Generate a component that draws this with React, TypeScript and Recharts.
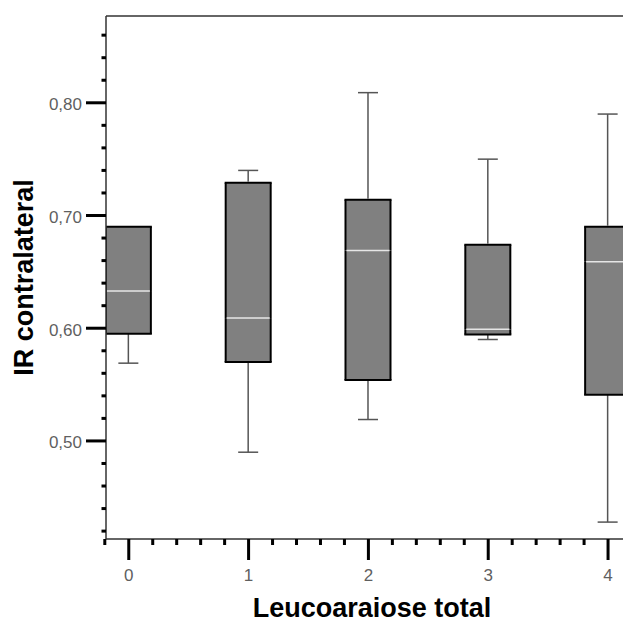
import React from 'react';
import { ComposedChart, Bar, XAxis, YAxis, ReferenceLine } from 'recharts';

// ---- data ----
const categories = [0, 1, 2, 3, 4];
const whiskerLow = [0.569, 0.49, 0.519, 0.59, 0.428];
const quartile1 = [0.595, 0.57, 0.554, 0.5945, 0.541];
const medians = [0.633, 0.609, 0.669, 0.599, 0.659];
const quartile3 = [0.69, 0.729, 0.714, 0.674, 0.69];
const whiskerHigh = [0.69, 0.74, 0.809, 0.75, 0.79];

const xTicks = [
  -0.2, 0, 0.2, 0.4, 0.6, 0.8, 1, 1.2, 1.4, 1.6, 1.8, 2, 2.2, 2.4, 2.6, 2.8, 3,
  3.2, 3.4, 3.6, 3.8, 4, 4.2,
];
const xMajorTicks = [0, 1, 2, 3, 4];
const xTickLabels = ['0', '1', '2', '3', '4'];

const yTicks = [
  0.42, 0.44, 0.46, 0.48, 0.5, 0.52, 0.54, 0.56, 0.58, 0.6, 0.62, 0.64, 0.66,
  0.68, 0.7, 0.72, 0.74, 0.76, 0.78, 0.8, 0.82, 0.84, 0.86,
];
const yMajorTicks = [0.5, 0.6, 0.7, 0.8];
const yTickLabels = ['0,50', '0,60', '0,70', '0,80'];

const xTitle = 'Leucoaraiose total';
const yTitle = 'IR contralateral';

const xDomain: [number, number] = [-0.19, 4.25];
const yDomain: [number, number] = [0.413, 0.877];

const data = categories.map((c, i) => ({
  x: c,
  base: whiskerLow[i],
  lowWhisker: quartile1[i] - whiskerLow[i],
  lowBox: medians[i] - quartile1[i],
  highBox: quartile3[i] - medians[i],
  highWhisker: whiskerHigh[i] - quartile3[i],
}));

// ---- styles ----
const FONT = '"Liberation Sans", Arial, sans-serif';
const BOX_HALF = 22.5;
const CAP_HALF = 10;
const BOX_FILL = '#808080';
const BOX_STROKE = '#000';
const WHISKER = '#555';
const MEDIAN = '#e6e6e6';
const AXIS = '#333';
const TICK_TEXT = '#5f5f5f';

const findIdx = (arr: number[], v: number) =>
  arr.findIndex((m) => Math.abs(m - v) < 1e-6);

const XTick = (props: any) => {
  const { x, y, payload } = props;
  const idx = findIdx(xMajorTicks, payload.value);
  if (idx >= 0) {
    return (
      <g>
        <rect x={x - 1.5} y={y} width={3} height={21} fill="#000" />
        <text
          x={x}
          y={y + 42}
          textAnchor="middle"
          fontSize={17}
          fontFamily={FONT}
          fill={TICK_TEXT}
        >
          {xTickLabels[idx]}
        </text>
      </g>
    );
  }
  return <rect x={x - 1.5} y={y} width={3} height={6} fill="#000" />;
};

const YTick = (props: any) => {
  const { x, y, payload } = props;
  const idx = findIdx(yMajorTicks, payload.value);
  if (idx >= 0) {
    return (
      <g>
        <rect x={x - 20} y={y - 1.5} width={20} height={3} fill="#000" />
        <text
          x={x - 24}
          y={y + 7.5}
          textAnchor="end"
          fontSize={17}
          fontFamily={FONT}
          fill={TICK_TEXT}
        >
          {yTickLabels[idx]}
        </text>
      </g>
    );
  }
  return <rect x={x - 4.5} y={y - 1.5} width={4.5} height={3} fill="#000" />;
};

const EmptyShape = () => <g />;

const LowWhiskerShape = (p: any) => {
  const { x, y, width, height } = p;
  if (!(height > 0.5)) return <g />;
  const cx = x + width / 2;
  return (
    <g>
      <line x1={cx} x2={cx} y1={y} y2={y + height} stroke={WHISKER} strokeWidth={1.5} />
      <line
        x1={cx - CAP_HALF}
        x2={cx + CAP_HALF}
        y1={y + height}
        y2={y + height}
        stroke={WHISKER}
        strokeWidth={1.5}
      />
    </g>
  );
};

const HighWhiskerShape = (p: any) => {
  const { x, y, width, height } = p;
  if (!(height > 0.5)) return <g />;
  const cx = x + width / 2;
  return (
    <g>
      <line x1={cx} x2={cx} y1={y} y2={y + height - 1} stroke={WHISKER} strokeWidth={1.5} />
      <line x1={cx - CAP_HALF} x2={cx + CAP_HALF} y1={y} y2={y} stroke={WHISKER} strokeWidth={1.5} />
    </g>
  );
};

const LowBoxShape = (p: any) => {
  const { x, y, width, height } = p;
  const cx = x + width / 2;
  const h = Math.max(height, 0);
  const l = cx - BOX_HALF;
  const r = cx + BOX_HALF;
  return (
    <g>
      <rect x={l} y={y} width={BOX_HALF * 2} height={h} fill={BOX_FILL} />
      <line x1={l} x2={l} y1={y} y2={y + h} stroke={BOX_STROKE} strokeWidth={2} />
      <line x1={r} x2={r} y1={y} y2={y + h} stroke={BOX_STROKE} strokeWidth={2} />
      <line x1={l - 1} x2={r + 1} y1={y + h} y2={y + h} stroke={BOX_STROKE} strokeWidth={2} />
    </g>
  );
};

const HighBoxShape = (p: any) => {
  const { x, y, width, height } = p;
  const cx = x + width / 2;
  const h = Math.max(height, 0);
  const l = cx - BOX_HALF;
  const r = cx + BOX_HALF;
  return (
    <g>
      <rect x={l} y={y} width={BOX_HALF * 2} height={h} fill={BOX_FILL} />
      <line x1={l} x2={l} y1={y} y2={y + h} stroke={BOX_STROKE} strokeWidth={2} />
      <line x1={r} x2={r} y1={y} y2={y + h} stroke={BOX_STROKE} strokeWidth={2} />
      <line x1={l - 1} x2={r + 1} y1={y} y2={y} stroke={BOX_STROKE} strokeWidth={2} />
      <line x1={l + 1} x2={r - 1} y1={y + h} y2={y + h} stroke={MEDIAN} strokeWidth={1.5} />
    </g>
  );
};

const renderXTitle = (p: any) => {
  const vb = p.viewBox;
  return (
    <text
      x={vb.x + vb.width / 2}
      y={vb.y + 77.5}
      textAnchor="middle"
      fontSize={27}
      fontWeight="bold"
      fontFamily={FONT}
      fill="#000"
    >
      {xTitle}
    </text>
  );
};

const renderYTitle = (p: any) => {
  const vb = p.viewBox;
  const tx = vb.x + 33;
  const ty = vb.y + vb.height / 2;
  return (
    <text
      x={tx}
      y={ty}
      transform={`rotate(-90, ${tx}, ${ty})`}
      textAnchor="middle"
      fontSize={27}
      fontWeight="bold"
      fontFamily={FONT}
      fill="#000"
    >
      {yTitle}
    </text>
  );
};

export default function App() {
  return (
    <div
      style={{
        position: 'absolute',
        left: 0,
        top: 0,
        width: 623,
        height: 621,
        overflow: 'hidden',
        background: '#fff',
      }}
    >
      <ComposedChart
        width={638}
        height={621}
        data={data}
        margin={{ top: 16, right: 0, bottom: 0, left: 0 }}
      >
        <XAxis
          type="number"
          dataKey="x"
          domain={xDomain}
          allowDataOverflow
          ticks={xTicks}
          interval={0}
          height={82}
          tickSize={0}
          tickMargin={0}
          tickLine={false}
          tick={(p: any) => <XTick {...p} />}
          axisLine={{ stroke: AXIS, strokeWidth: 1.5 }}
          label={{ value: xTitle, content: renderXTitle }}
        />
        <YAxis
          type="number"
          domain={yDomain}
          allowDataOverflow
          ticks={yTicks}
          interval={0}
          width={106}
          tickSize={0}
          tickMargin={0}
          tickLine={false}
          tick={(p: any) => <YTick {...p} />}
          axisLine={{ stroke: AXIS, strokeWidth: 1.5 }}
          label={{ value: yTitle, content: renderYTitle }}
        />
        <ReferenceLine
          y={yDomain[1]}
          stroke={AXIS}
          strokeWidth={1.5}
          ifOverflow="visible"
        />
        <Bar dataKey="base" stackId="box" barSize={45} shape={EmptyShape} isAnimationActive={false} />
        <Bar dataKey="lowWhisker" stackId="box" barSize={45} shape={LowWhiskerShape} isAnimationActive={false} />
        <Bar dataKey="lowBox" stackId="box" barSize={45} shape={LowBoxShape} isAnimationActive={false} />
        <Bar dataKey="highBox" stackId="box" barSize={45} shape={HighBoxShape} isAnimationActive={false} />
        <Bar dataKey="highWhisker" stackId="box" barSize={45} shape={HighWhiskerShape} isAnimationActive={false} />
      </ComposedChart>
    </div>
  );
}
